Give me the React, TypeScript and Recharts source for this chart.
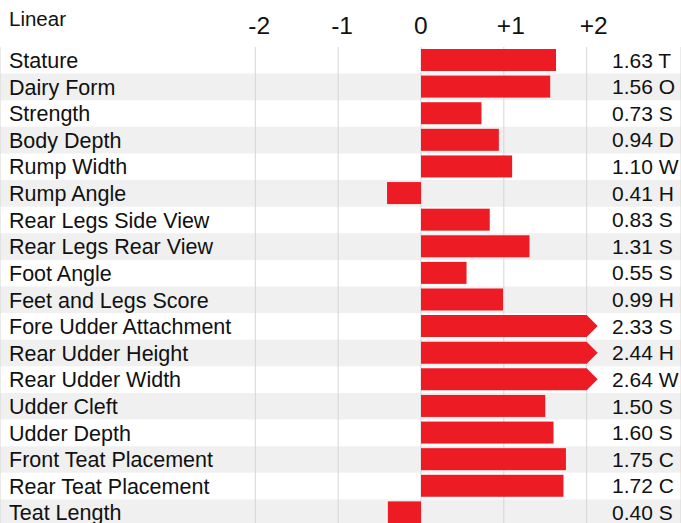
import React from 'react';
import {
  BarChart, Bar, XAxis, YAxis, CartesianGrid, ReferenceArea, LabelList,
} from 'recharts';

const traits = [
  'Stature', 'Dairy Form', 'Strength', 'Body Depth', 'Rump Width', 'Rump Angle',
  'Rear Legs Side View', 'Rear Legs Rear View', 'Foot Angle', 'Feet and Legs Score',
  'Fore Udder Attachment', 'Rear Udder Height', 'Rear Udder Width', 'Udder Cleft',
  'Udder Depth', 'Front Teat Placement', 'Rear Teat Placement', 'Teat Length',
];
const values = [
  1.63, 1.56, 0.73, 0.94, 1.10, -0.41, 0.83, 1.31, 0.55, 0.99,
  2.33, 2.44, 2.64, 1.50, 1.60, 1.75, 1.72, -0.40,
];
const codes = ['T', 'O', 'S', 'D', 'W', 'H', 'S', 'S', 'S', 'H', 'S', 'H', 'W', 'S', 'S', 'C', 'C', 'S'];
const axisTicks = [-2, -1, 0, 1, 2];
const maxShown = 2;

const data = traits.map((name, i) => ({
  name,
  value: values[i],
  shown: Math.max(-maxShown, Math.min(maxShown, values[i])),
  over: Math.abs(values[i]) > maxShown,
  label: `${Math.abs(values[i]).toFixed(2)} ${codes[i]}`,
}));

const FONT = '"Liberation Sans", Arial, Helvetica, sans-serif';
const RED = '#ed1c24';

// zero sits at x=421, one unit is ~82.8px, plot spans the full width
const W = 681;
const ZERO = 421;
const UNIT = 82.83;
const domain = [-ZERO / UNIT, (W - ZERO) / UNIT];

const BarShape = (props: any) => {
  const { x, y, width, height, payload } = props;
  const left = width < 0 ? x + width : x;
  const w = Math.abs(width);
  if (!payload.over) {
    return <rect x={left} y={y} width={w} height={height} fill={RED} />;
  }
  const r = left + w;
  const pts = `${left},${y} ${r},${y} ${r + height / 2},${y + height / 2} ${r},${y + height} ${left},${y + height}`;
  return <polygon points={pts} fill={RED} />;
};

const TraitTick = ({ y, payload }: any) => (
  <text x={9} y={y} dy="0.36em" fontSize={21.5} fontFamily={FONT} fill="#111" textAnchor="start">
    {payload.value}
  </text>
);

const ScaleTick = ({ x, payload }: any) => {
  const v = payload.value;
  return (
    <text x={x - 7} y={34} fontSize={24.5} fontFamily={FONT} fill="#111" textAnchor="start">
      {v > 0 ? `+${v}` : `${v}`}
    </text>
  );
};

const ValueLabel = ({ y, height, value }: any) => (
  <text x={612} y={y + height / 2} dy="0.36em" fontSize={21} fontFamily={FONT} fill="#111" textAnchor="start">
    {value}
  </text>
);

export default function App() {
  return (
    <div style={{ position: 'fixed', left: 0, top: 0, width: W, height: 523, overflow: 'hidden', background: '#fff' }}>
      <div style={{ position: 'absolute', left: 9, top: 9, fontSize: 20.5, lineHeight: '20px', fontFamily: FONT, color: '#111' }}>
        Linear
      </div>
      <BarChart
        width={W}
        height={526}
        data={data}
        layout="vertical"
        barSize={22}
        margin={{ top: 0, right: 0, left: 0, bottom: 0 }}
      >
        {traits.filter((_, i) => i % 2 === 1).map((t) => (
          <ReferenceArea key={t} y1={t} y2={t} fill="#eff0ef" fillOpacity={1} stroke="none" zIndex={-150} ifOverflow="visible" />
        ))}
        <CartesianGrid horizontal={false} stroke="#d6d6d6" />
        <XAxis
          type="number"
          orientation="top"
          domain={domain}
          allowDataOverflow
          ticks={axisTicks}
          interval={0}
          height={47}
          axisLine={false}
          tickLine={false}
          tick={<ScaleTick />}
        />
        <YAxis
          type="category"
          dataKey="name"
          mirror
          interval={0}
          axisLine={false}
          tickLine={false}
          tick={<TraitTick />}
        />
        <Bar dataKey="shown" shape={<BarShape />} isAnimationActive={false}>
          <LabelList dataKey="label" content={<ValueLabel />} />
        </Bar>
      </BarChart>
    </div>
  );
}
